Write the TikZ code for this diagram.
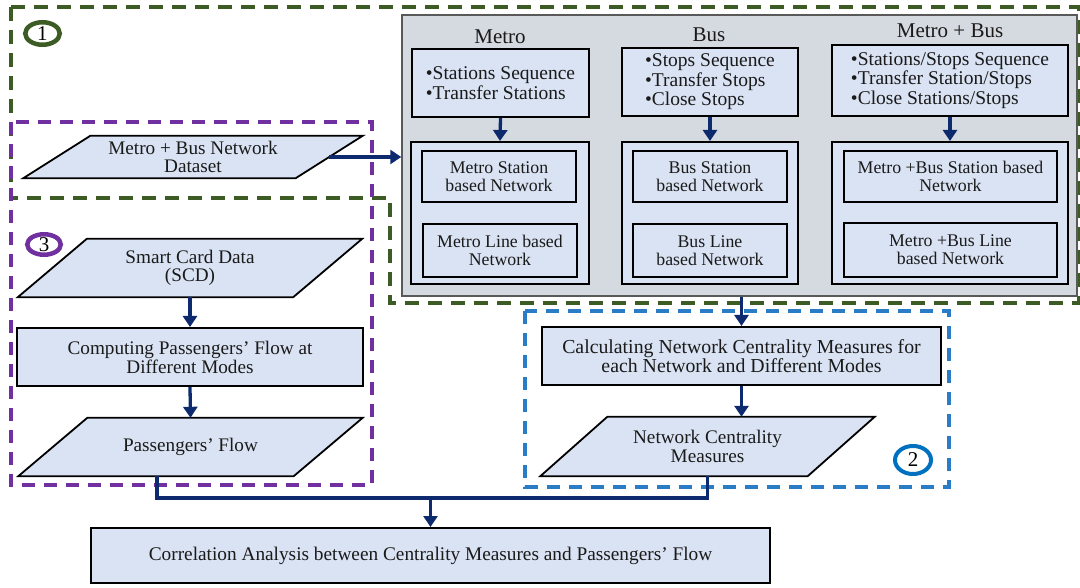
\documentclass[tikz,border=0pt]{standalone}
\usepackage{fontspec}
\setmainfont{Liberation Serif}
\usetikzlibrary{arrows.meta,calc,backgrounds,shapes.geometric}

\definecolor{boxfill}{HTML}{DAE3F3}
\definecolor{panelfill}{HTML}{D5D9E0}
\definecolor{navy}{HTML}{0E2A6E}
\definecolor{dgreen}{HTML}{3D5B25}
\definecolor{purp}{HTML}{7030A0}
\definecolor{dblue}{HTML}{2A7CC7}
\definecolor{cblue}{HTML}{0070C0}
\definecolor{txt}{HTML}{1A1A1A}

\tikzset{
  box/.style={draw=black, line width=2pt, fill=boxfill, text=txt, align=center, inner sep=0pt,
    font=\fontsize{19.5}{19.5}\selectfont},
  smallbox/.style={box, font=\fontsize{17.8}{18}\selectfont},
  outerbox/.style={draw=black, line width=2pt, fill=boxfill, inner sep=0pt},
  panelbox/.style={draw=black!65, line width=1.5pt, fill=panelfill, inner sep=0pt},
  ptext/.style={text=txt, align=center, inner sep=0pt, font=\fontsize{19.2}{18.5}\selectfont},
  para/.style={draw=black, line width=1.8pt, fill=boxfill, line join=miter},
  hdr/.style={text=txt, inner sep=0pt, font=\fontsize{21}{21}\selectfont},
  arr/.style={draw=navy, line width=3.3pt, -{Triangle[width=14pt,length=11pt]}},
  conn/.style={draw=navy, line width=3.3pt},
  gdash/.style={draw=dgreen, line width=3.5pt, dash pattern=on 14pt off 9pt},
  pdash/.style={draw=purp, line width=3.8pt, dash pattern=on 13pt off 9pt},
  bdash/.style={draw=dblue, line width=3.8pt, dash pattern=on 13pt off 9pt},
  badge/.style={ellipse, inner sep=0pt, text=black, font=\fontsize{21}{21}\selectfont},
}

\begin{document}
\begin{tikzpicture}[x=1pt,y=-1pt]
\useasboundingbox (0,0) rectangle (1080,588);

% ---------- gray panel ----------
\node[panelbox, minimum width=675pt, minimum height=281pt] (panel) at (739.5,155.5) {};

% headers
\node[hdr] (hm) at (500,37) {Metro};
\node[hdr] (hb) at (709,35) {Bus};
\node[hdr] (hmb) at (950,31) {Metro + Bus};

% top boxes
\node[box, minimum width=177pt, minimum height=68pt, align=left] (tm) at (500.5,83)
  {•Stations Sequence\\•Transfer Stations};
\node[box, minimum width=176pt, minimum height=68pt, align=left] (tb) at (710,82)
  {•Stops Sequence\\•Transfer Stops\\•Close Stops};
\node[box, minimum width=236pt, minimum height=71pt, align=left] (tmb) at (950,80.5)
  {•Stations/Stops Sequence\\•Transfer Station/Stops\\•Close Stations/Stops};

% outer network boxes
\node[outerbox, minimum width=178pt, minimum height=142pt] (om) at (500,213) {};
\node[outerbox, minimum width=176pt, minimum height=142pt] (ob) at (710,213) {};
\node[outerbox, minimum width=236pt, minimum height=142pt] (omb) at (950,213) {};

% inner network boxes
\node[smallbox, minimum width=154pt, minimum height=51pt] (ms) at (499,176.5) {Metro Station\\based Network};
\node[smallbox, minimum width=154pt, minimum height=53pt] (ml) at (500,250.5) {Metro Line based\\Network};
\node[smallbox, minimum width=154pt, minimum height=51pt] (bs) at (710,176.5) {Bus Station\\based Network};
\node[smallbox, minimum width=154pt, minimum height=53pt] (bl) at (710,250.5) {Bus Line\\based Network};
\node[smallbox, minimum width=213pt, minimum height=51pt] (mbs) at (950.5,176.5) {Metro +Bus Station based\\Network};
\node[smallbox, minimum width=213pt, minimum height=54pt] (mbl) at (950.5,250) {Metro +Bus Line\\based Network};

% ---------- left column ----------
\node[ptext, minimum width=272pt, minimum height=42pt] (ds) at (193,157) {Metro + Bus Network\\Dataset};
\node[ptext, minimum width=275pt, minimum height=58pt] (scd) at (190,268) {Smart Card Data\\(SCD)};
\node[box, minimum width=346pt, minimum height=58pt, font=\fontsize{19.2}{19}\selectfont] (comp) at (190,357)
  {Computing Passengers’ Flow at\\Different Modes};
\node[ptext, minimum width=275pt, minimum height=58pt] (pf) at (190.5,447) {Passengers’ Flow};

% ---------- right lower ----------
\node[box, minimum width=399pt, minimum height=58pt, font=\fontsize{19.8}{19.5}\selectfont] (calc) at (741.5,356)
  {Calculating Network Centrality Measures for\\each Network and Different Modes};
\node[ptext, minimum width=267pt, minimum height=59pt] (ncm) at (707.5,446.5) {Network Centrality\\Measures};

% ---------- bottom ----------
\node[box, minimum width=679pt, minimum height=55pt, font=\fontsize{19.3}{19}\selectfont] (corr) at (430.5,555.5)
  {Correlation Analysis between Centrality Measures and Passengers’ Flow};

% badges
\node[badge, draw=dgreen, line width=4.5pt, minimum width=34.5pt, minimum height=22.5pt] (c1) at (42.5,33.5) {1};
\node[badge, draw=purp, line width=4.5pt, minimum width=33.5pt, minimum height=20.5pt] (c3) at (44,244.5) {3};
\node[badge, draw=cblue, line width=4pt, minimum width=36pt, minimum height=28pt] (c2) at (913,460) {2};

% ---------- background: dashed regions and parallelograms ----------
\begin{scope}[on background layer]
  \draw[gdash] (11,7) -- (1079,7) -- (1079,303) -- (390,303) -- (390,198) -- (11,198) -- cycle;
  \draw[pdash] (11,122) rectangle (372,485);
  \draw[bdash] (525,311) rectangle (949,487);
  \draw[para] ([xshift=-33.5pt]ds.south west) -- ([xshift=33.5pt]ds.north west)
        -- ([xshift=33.5pt]ds.north east) -- ([xshift=-33.5pt]ds.south east) -- cycle;
  \draw[para] ([xshift=-34.5pt]scd.south west) -- ([xshift=34.5pt]scd.north west)
        -- ([xshift=34.5pt]scd.north east) -- ([xshift=-34.5pt]scd.south east) -- cycle;
  \draw[para] ([xshift=-34.5pt]pf.south west) -- ([xshift=34.5pt]pf.north west)
        -- ([xshift=34.5pt]pf.north east) -- ([xshift=-34.5pt]pf.south east) -- cycle;
  \draw[para] ([xshift=-33.5pt]ncm.south west) -- ([xshift=33.5pt]ncm.north west)
        -- ([xshift=33.5pt]ncm.north east) -- ([xshift=-33.5pt]ncm.south east) -- cycle;
\end{scope}

% ---------- connectors ----------
\draw[arr] (tm.south) -- (om.north);
\draw[arr] (tb.south) -- (ob.north);
\draw[arr] (tmb.south) -- (omb.north);
\draw[arr] (ds.east) -- (ds.east -| panel.west);
\draw[arr] (scd.south) -- (comp.north);
\draw[arr] (comp.south) -- (pf.north);
\draw[arr] (panel.south -| calc.north) -- (calc.north);
\draw[arr] (calc.south) -- (calc.south |- ncm.north);
\coordinate (j) at (430.5,498);
\draw[conn] ([xshift=-33.5pt]pf.south) |- (j) -| (ncm.south);
\draw[arr] (j) -- (corr.north);
\end{tikzpicture}
\end{document}
